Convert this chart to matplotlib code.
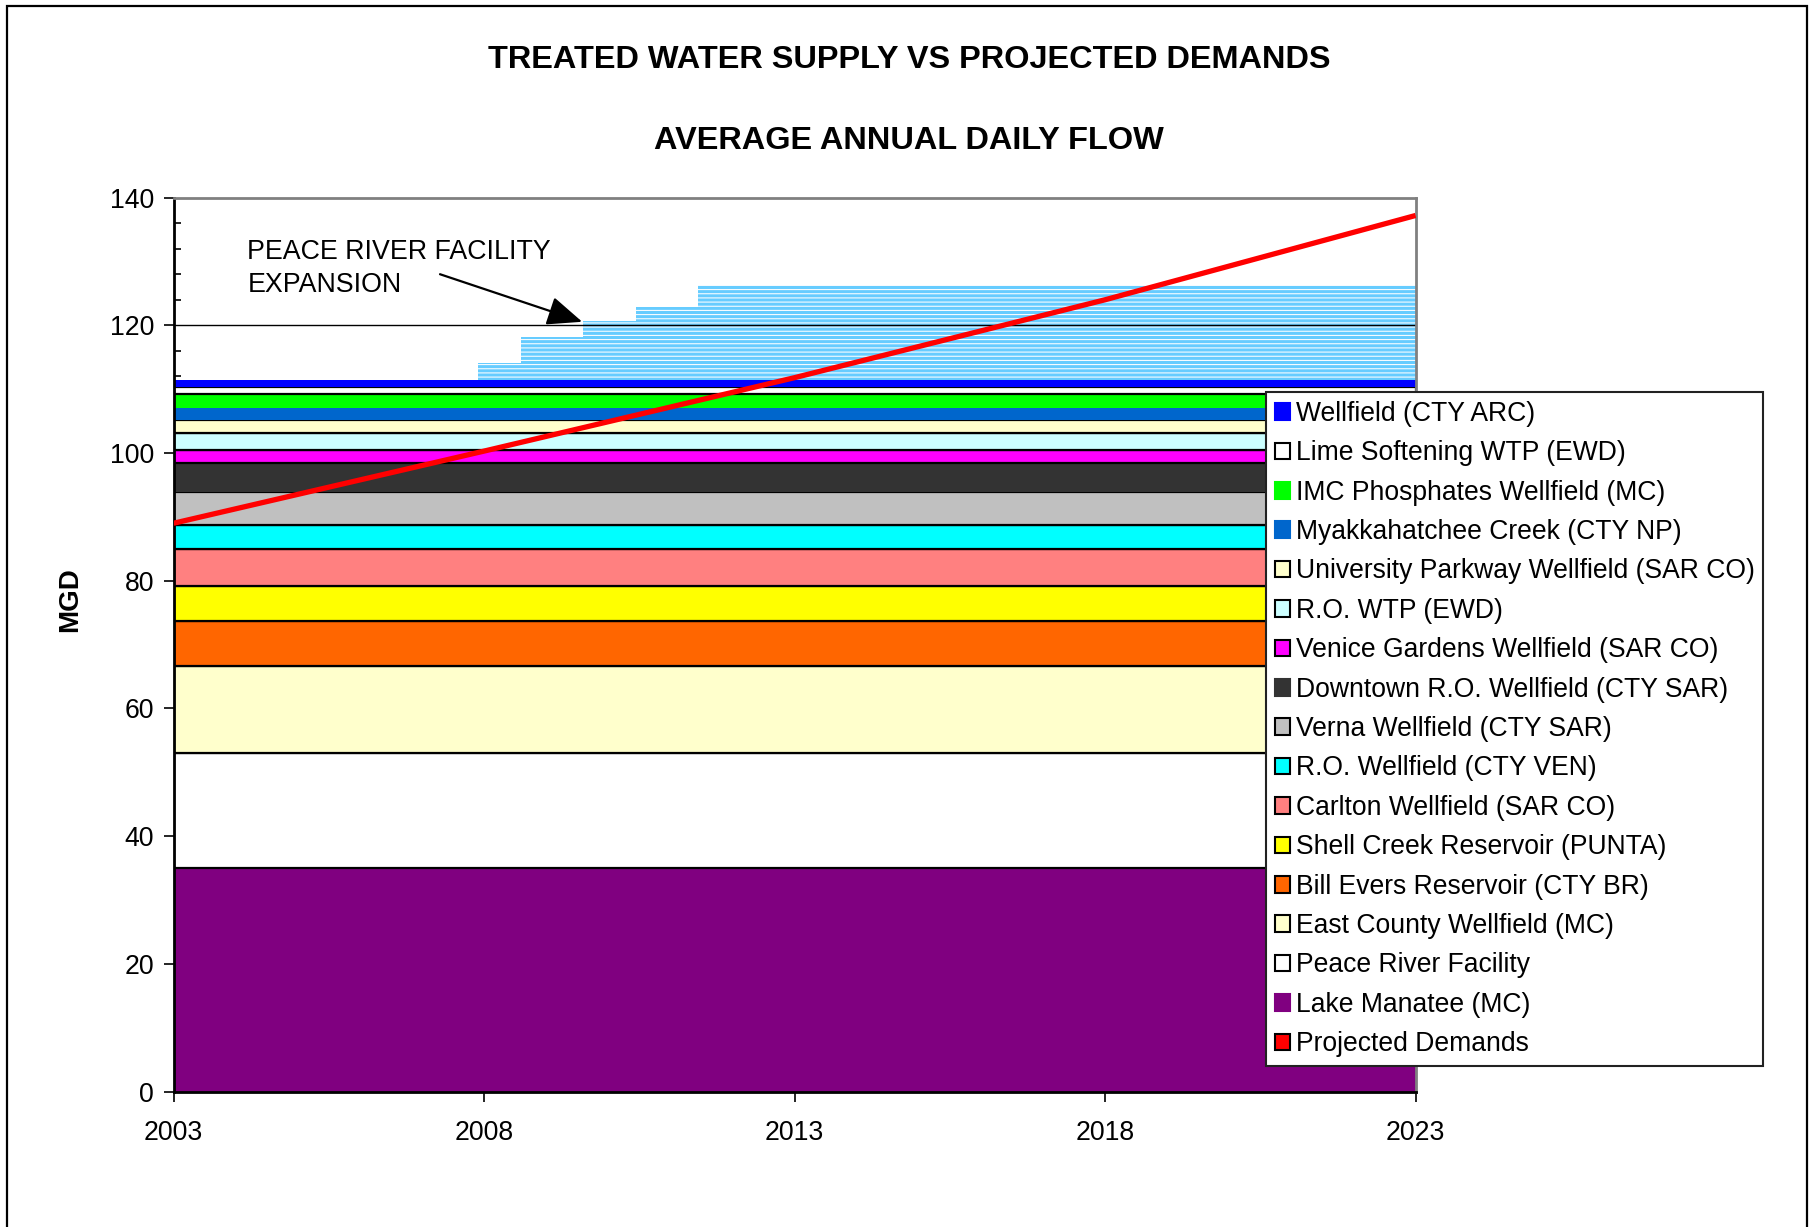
import matplotlib
matplotlib.use("Agg")
import matplotlib.pyplot as plt
from matplotlib.patches import Patch, Rectangle
from matplotlib.ticker import MultipleLocator, FixedLocator

plt.rcParams['font.family'] = ['Liberation Sans', 'DejaVu Sans']

# ---------------- data ----------------
years_span = [2003, 2023]

# stacked capacities (MGD), bottom to top
sources = [
    "Lake Manatee (MC)",
    "Peace River Facility",
    "East County Wellfield (MC)",
    "Bill Evers Reservoir (CTY BR)",
    "Shell Creek Reservoir (PUNTA)",
    "Carlton Wellfield (SAR CO)",
    "R.O. Wellfield (CTY VEN)",
    "Verna Wellfield (CTY SAR)",
    "Downtown R.O. Wellfield (CTY SAR)",
    "Venice Gardens Wellfield (SAR CO)",
    "R.O. WTP (EWD)",
    "University Parkway Wellfield (SAR CO)",
    "Myakkahatchee Creek (CTY NP)",
    "IMC Phosphates Wellfield (MC)",
    "Lime Softening WTP (EWD)",
    "Wellfield (CTY ARC)",
]
capacities = [35.0, 18.0, 13.7, 7.0, 5.4, 5.8, 3.9, 5.1, 4.5, 2.1, 2.6, 2.0, 2.0, 2.1, 1.2, 1.1]
colors = ["#800080", "#FFFFFF", "#FFFFCC", "#FF6600", "#FFFF00", "#FF8080", "#00FFFF",
          "#C0C0C0", "#333333", "#FF00FF", "#CCFFFF", "#FFFFCC", "#0066CC", "#00FF00",
          "#FFFFFF", "#0000FF"]
outlined = [False, True, True, True, True, True, True,
            True, False, True, True, True, False, False,
            True, False]

# Peace River facility expansion (added MGD above existing supply)
expansion_years = [2007.9, 2008.6, 2009.6, 2010.45, 2011.45, 2023]
expansion_values = [2.6, 6.7, 9.2, 11.4, 14.8, 14.8]

# projected demands
demand_years = [2003, 2008, 2013, 2018, 2023]
demand_values = [89.0, 100.3, 111.8, 124.0, 137.2]

x_ticks = [2003, 2008, 2013, 2018, 2023]

# ---------------- figure ----------------
W, H = 1815, 1227
fig = plt.figure(figsize=(W / 100, H / 100), dpi=100)
L, R, T, B = 173.6, 1415.6, 197.6, 1091.5
ax = fig.add_axes([L / W, 1 - B / H, (R - L) / W, (B - T) / H])

base = 0.0
for name, cap, col, out in zip(sources, capacities, colors, outlined):
    top = base + cap
    ax.fill_between(years_span, [base, base], [top, top], facecolor=col,
                    edgecolor="black" if out else col,
                    linewidth=1.6 if out else 0, zorder=2)
    base = top

exp_bottom = base
plt.rcParams['hatch.linewidth'] = 0.75
ax.fill_between(expansion_years, [exp_bottom] * len(expansion_years),
                [exp_bottom + v for v in expansion_values], step="post",
                facecolor="#66CCFF", edgecolor="white", hatch="----",
                linewidth=0, zorder=1)

ax.plot(demand_years, demand_values, color="#FF0000", linewidth=3.8, zorder=4,
        solid_capstyle="butt")

ax.set_xlim(2003, 2023)
ax.set_ylim(0, 140)
ax.xaxis.set_major_locator(FixedLocator(x_ticks))
ax.yaxis.set_major_locator(MultipleLocator(20))
ax.yaxis.set_minor_locator(MultipleLocator(4))

for yv in ax.get_yticks():
    if 0 < yv < 140:
        ax.axhline(yv, color="black", linewidth=1.0, zorder=1.5)

ax.tick_params(axis="both", which="major", direction="out", length=7, width=1.2,
               labelsize=19.2, colors="black")
ax.tick_params(axis="y", which="major", pad=7)
ax.tick_params(axis="x", which="major", pad=13.5)
ax.tick_params(axis="y", which="minor", direction="in", length=5, width=1.2)

for s in ["left", "bottom"]:
    ax.spines[s].set_color("black")
    ax.spines[s].set_linewidth(2.0)
for s in ["top", "right"]:
    ax.spines[s].set_color("#808080")
    ax.spines[s].set_linewidth(2.0)

ax.set_ylabel("MGD", fontsize=20, fontweight="bold")
ax.yaxis.set_label_coords(-0.073, 0.55)

ax.text(2004.19, 128.9, "PEACE RIVER FACILITY\nEXPANSION", fontsize=19.3,
        ha="left", va="center", linespacing=1.37, zorder=5)
ax.annotate("", xy=(2009.58, 120.55), xytext=(2007.29, 128.0),
            arrowprops=dict(arrowstyle="-|>,head_length=1.2,head_width=0.5",
                            color="black", lw=1.6, shrinkA=0, shrinkB=0,
                            mutation_scale=18),
            zorder=5)

fig.text(0.501, 1 - 60.2 / H, "TREATED WATER SUPPLY VS PROJECTED DEMANDS",
         ha="center", va="center", fontsize=23.4, fontweight="bold")
fig.text(0.501, 1 - 141.3 / H, "AVERAGE ANNUAL DAILY FLOW",
         ha="center", va="center", fontsize=23.4, fontweight="bold")

# legend (top entry = top of stack)
handles, labels = [], []
for name, col, out in reversed(list(zip(sources, colors, outlined))):
    handles.append(Patch(facecolor=col, edgecolor="black" if out else col, linewidth=1.5))
    labels.append(name)
handles.append(Patch(facecolor="#FF0000", edgecolor="black", linewidth=1.5))
labels.append("Projected Demands")

leg = fig.legend(handles, labels, loc="upper left",
                 bbox_to_anchor=(1266.3 / W, 1 - 392.4 / H),
                 fontsize=19.1, frameon=True, fancybox=False, shadow=False,
                 framealpha=1.0, facecolor="white",
                 borderpad=0.32, labelspacing=0.505, handlelength=0.58,
                 handleheight=0.58, handletextpad=0.22, borderaxespad=0)
leg.get_frame().set_edgecolor("#222222")
leg.get_frame().set_linewidth(1.5)
leg.set_zorder(10)

fig.add_artist(Rectangle((7 / W, -0.05), (1807 - 7) / W, 1.05 - 6 / H,
                         transform=fig.transFigure, fill=False,
                         edgecolor="black", linewidth=1.6))

fig.savefig("out.png", dpi=100)
